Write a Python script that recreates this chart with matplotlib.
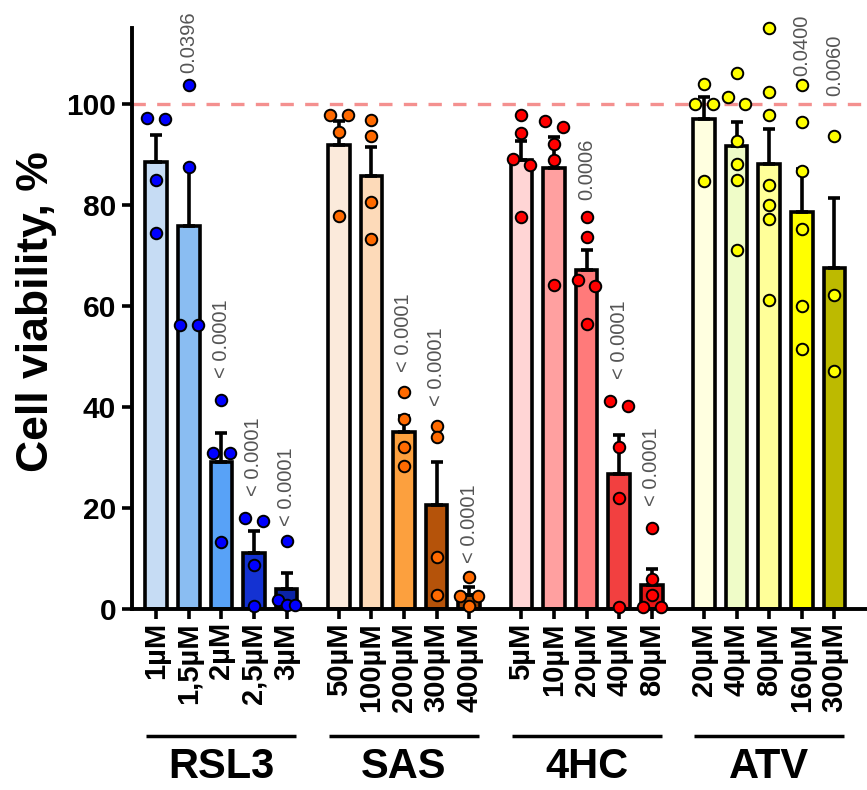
import numpy as np
import matplotlib
matplotlib.use("Agg")
import matplotlib.pyplot as plt
import matplotlib.transforms as mtransforms

plt.rcParams['font.family'] = ['Liberation Sans', 'DejaVu Sans']

# ---------------- data ----------------
groups = ['RSL3', 'SAS', '4HC', 'ATV']

rsl3_labels = ['1µM', '1,5µM', '2µM', '2,5µM', '3µM']
sas_labels = ['50µM', '100µM', '200µM', '300µM', '400µM']
hc_labels = ['5µM', '10µM', '20µM', '40µM', '80µM']
atv_labels = ['20µM', '40µM', '80µM', '160µM', '300µM']

rsl3_mean = [88.4, 75.8, 29.0, 11.1, 4.0]
rsl3_sem = [5.4, 11.6, 5.9, 4.3, 3.2]
rsl3_points = [[97.1, 96.9, 85.0, 74.5],
               [103.7, 87.4, 56.2, 56.2],
               [41.4, 30.8, 30.8, 13.2],
               [18.1, 17.4, 8.8, 0.6],
               [13.4, 1.8, 0.8, 0.8]]

sas_mean = [91.8, 85.8, 35.0, 20.5, 2.8]
sas_sem = [4.7, 5.7, 3.2, 8.5, 1.5]
sas_points = [[97.7, 97.7, 94.5, 77.8],
              [96.8, 93.6, 80.5, 73.3],
              [43.0, 37.7, 32.1, 28.4],
              [36.2, 34.1, 10.3, 2.8],
              [6.3, 2.5, 2.5, 0.6]]

hc_mean = [88.9, 87.2, 67.1, 26.8, 4.8]
hc_sem = [3.8, 6.3, 4.0, 7.7, 3.2]
hc_points = [[97.7, 94.2, 89.0, 87.9, 77.5],
             [96.5, 95.4, 92.0, 88.8, 64.1],
             [77.6, 73.7, 65.2, 64.0, 56.4],
             [41.2, 40.2, 32.0, 21.9, 0.4],
             [16.0, 6.0, 2.8, 0.4, 0.4]]

atv_mean = [96.9, 91.6, 88.0, 78.5, 67.4]
atv_sem = [4.4, 4.8, 7.0, 8.6, 14.0]
atv_points = [[103.9, 100.0, 100.0, 84.8],
              [106.1, 101.3, 100.0, 92.7, 88.1, 84.9, 71.0],
              [115.0, 102.3, 97.8, 84.0, 80.0, 77.1, 61.1],
              [103.7, 96.4, 86.6, 75.2, 59.9, 51.5],
              [93.6, 62.1, 47.2]]

# p-value annotations: (group, bar, text, y)
annot_group = [0, 0, 0, 0, 1, 1, 1, 2, 2, 2, 3, 3]
annot_bar = [1, 2, 3, 4, 2, 3, 4, 2, 3, 4, 3, 4]
annot_text = ['0.0396', '< 0.0001', '< 0.0001', '< 0.0001',
              '< 0.0001', '< 0.0001', '< 0.0001',
              '0.0006', '< 0.0001', '< 0.0001',
              '0.0400', '0.0060']
annot_y = [106.0, 45.8, 22.3, 16.4, 46.9, 40.2, 9.2, 81.0, 45.5, 20.3, 105.5, 101.6]

# ---------------- styles ----------------
bar_colors = [['#C6DCF4', '#8ABDF2', '#58A2F7', '#1432D2', '#0B24A8'],
              ['#FBEADB', '#FDDAB9', '#FCA03E', '#B5530A', '#9B4506'],
              ['#FFD5D5', '#FFA0A0', '#FF7A7A', '#F24040', '#E81515'],
              ['#FFFFE0', '#EFFCC8', '#FFFF99', '#FFFF00', '#BDBA00']]
point_colors = ['#0000FF', '#FF6A00', '#FF0000', '#FFFF00']

all_labels = [rsl3_labels, sas_labels, hc_labels, atv_labels]
all_means = [rsl3_mean, sas_mean, hc_mean, atv_mean]
all_sems = [rsl3_sem, sas_sem, hc_sem, atv_sem]
all_points = [rsl3_points, sas_points, hc_points, atv_points]

GROUP_STEP = 5.6
BAR_W = 0.66
LW = 2.6


def swarm_offsets(vals, thr=1.6, s=0.27):
    vals = np.asarray(vals, dtype=float)
    order = np.argsort(-vals, kind='stable')
    offs = np.zeros(len(vals))
    clusters = []
    cur = [order[0]]
    for a, b in zip(order[:-1], order[1:]):
        if vals[a] - vals[b] < thr:
            cur.append(b)
        else:
            clusters.append(cur)
            cur = [b]
    clusters.append(cur)
    for c in clusters:
        k = len(c)
        if k == 1:
            continue
        if k == 2:
            o = [-s, s]
        else:
            o = (np.arange(k) - (k - 1) / 2) * s
        for idx, oo in zip(c, o):
            offs[idx] = oo
    return offs


fig = plt.figure(figsize=(8.67, 7.9), dpi=100)
ax = fig.add_axes([132 / 867, 181 / 790, 735 / 867, 581 / 790])

ax.axhline(100, color='#F4908F', lw=2.4, dashes=(4.0, 3.4), zorder=1)

xticks, xlabels = [], []
for g in range(4):
    pos = g * GROUP_STEP + np.arange(5)
    ax.bar(pos, all_means[g], width=BAR_W, color=bar_colors[g],
           edgecolor='black', linewidth=LW, zorder=2)
    ax.errorbar(pos, all_means[g],
                yerr=[np.zeros(5), all_sems[g]], fmt='none', ecolor='black',
                elinewidth=LW, capsize=4.3, capthick=LW, zorder=3)
    for i in range(5):
        pts = all_points[g][i]
        offs = swarm_offsets(pts)
        ax.plot(pos[i] + offs, pts, 'o', ms=8.3, mfc=point_colors[g],
                mec='black', mew=1.4, zorder=4, clip_on=False)
    xticks.extend(pos)
    xlabels.extend(all_labels[g])

    # group line & label
    trans = mtransforms.blended_transform_factory(ax.transData, ax.transAxes)
    ax.plot([pos[0] - 0.3, pos[-1] + 0.3], [-0.2186, -0.2186], color='black',
            lw=2.5, transform=trans, clip_on=False, solid_capstyle='butt')
    ax.text(pos[2], -0.2915, groups[g], transform=trans, ha='center',
            va='baseline', fontsize=30, fontweight='bold')

for g, b, t, y in zip(annot_group, annot_bar, annot_text, annot_y):
    ax.text(g * GROUP_STEP + b, y, t, rotation=90, ha='center', va='bottom',
            fontsize=14.5, color='#555555', clip_on=False)

ax.set_xlim(-0.74, 21.8)
ax.set_ylim(0, 115)
ax.set_yticks([0, 20, 40, 60, 80, 100])
ax.set_yticklabels(['0', '20', '40', '60', '80', '100'], fontsize=21.5,
                   fontweight='bold')
ax.set_xticks(xticks)
ax.set_xticklabels(xlabels, rotation=90, fontsize=21, fontweight='bold',
                   va='top', ha='center')
ax.tick_params(axis='x', length=7.5, width=LW, pad=2)
ax.tick_params(axis='y', length=7.5, width=LW, pad=4)

for side in ['top', 'right']:
    ax.spines[side].set_visible(False)
for side in ['left', 'bottom']:
    ax.spines[side].set_linewidth(2.8)

ax.set_ylabel('Cell viability, %', fontsize=32, fontweight='bold')
ax.yaxis.set_label_coords(-0.13, 0.511)
ax.yaxis.label.set_va('center')

fig.savefig('out.png', dpi=100)
